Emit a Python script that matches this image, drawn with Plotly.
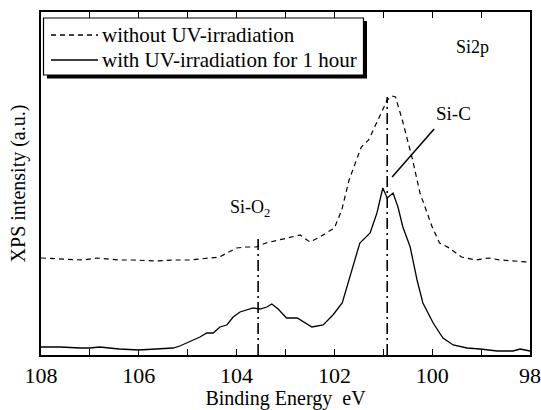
import plotly.graph_objects as go

# Binding energy (eV) and intensity (a.u.)
be_without = [108.0, 107.5, 107.15, 106.85, 106.4, 106.1, 105.65, 105.3, 104.95, 104.75,
              104.35, 104.2, 104.0, 103.8, 103.6, 103.4, 103.0, 102.7, 102.5, 102.3,
              102.0, 101.85, 101.7, 101.45, 101.3, 101.1, 100.92, 100.82, 100.75, 100.6,
              100.4, 100.25, 100.0, 99.85, 99.65, 99.4, 99.1, 98.85, 98.6, 98.05, 98.0]
int_without = [97, 96, 95, 97, 95, 95, 94, 95, 95, 96,
               98, 102, 107, 108, 108, 112, 117, 120, 113, 118,
               127, 145, 175, 208, 215, 237, 255, 259, 258, 233,
               195, 162, 128, 112, 107, 98, 95, 97, 95, 93, 93]

be_with = [108.0, 107.6, 107.2, 107.0, 106.8, 106.4, 106.0, 105.6, 105.3, 105.16,
           104.89, 104.75, 104.61, 104.48, 104.34, 104.2, 104.07, 103.93, 103.66, 103.52,
           103.38, 103.28, 103.15, 102.98, 102.76, 102.46, 102.23, 102.03, 101.84, 101.72,
           101.62, 101.48, 101.27, 101.13, 101.01, 100.92, 100.8, 100.7, 100.6, 100.45,
           100.31, 100.19, 99.98, 99.78, 99.57, 99.29, 99.02, 98.67, 98.35, 98.2, 98.0]
int_with = [8, 8, 7, 7, 8, 6, 5, 6, 7, 9,
            15, 18, 22, 22, 28, 30, 38, 43, 47, 46,
            48, 51, 46, 37, 37, 28, 30, 40, 52, 72,
            88, 112, 122, 142, 167, 157, 162, 148, 128, 108,
            75, 52, 32, 17, 10, 7, 6, 4, 4, 6, 4]

peak_positions = [100.92, 103.56]
peak_tops = [258, 120]
peak_labels = ["Si-C", "Si-O<sub>2</sub>"]

series_names = ["without UV-irradiation", "with UV-irradiation for 1 hour"]
series_dash = ["5px,4px", "solid"]
x_ticks = [108, 106, 104, 102, 100, 98]

FONT = "Liberation Serif, Times New Roman, serif"

fig = go.Figure()
fig.add_trace(go.Scatter(x=be_without, y=int_without, mode="lines", name=series_names[0],
                         showlegend=False,
                         line=dict(color="black", width=1.2, dash=series_dash[0])))
fig.add_trace(go.Scatter(x=be_with, y=int_with, mode="lines", name=series_names[1],
                         showlegend=False,
                         line=dict(color="black", width=1.3, dash=series_dash[1])))

# dash-dot peak markers
for pos, top in zip(peak_positions, peak_tops):
    fig.add_trace(go.Scatter(x=[pos, pos], y=[0, top], mode="lines", showlegend=False,
                             hoverinfo="skip",
                             line=dict(color="black", width=1.6, dash="11px,4px,2px,4px")))

# Si-C leader line
fig.add_trace(go.Scatter(x=[99.96, 100.82], y=[226, 178], mode="lines", showlegend=False,
                         hoverinfo="skip", line=dict(color="black", width=1.5)))

fig.add_annotation(x=99.57, y=242, text=peak_labels[0], showarrow=False,
                   font=dict(family=FONT, size=19, color="black"))
fig.add_annotation(x=103.72, y=147, text=peak_labels[1], showarrow=False,
                   font=dict(family=FONT, size=18, color="black"))
fig.add_annotation(x=99.17, y=308, text="Si2p", showarrow=False,
                   font=dict(family=FONT, size=18, color="black"))

# ---- legend box with drop shadow (paper coords) ----
W, H = 489.0, 343.0
def px(x):
    return (x - 41) / W
def py(y):
    return (355 - y) / H

fig.add_shape(type="rect", xref="paper", yref="paper",
              x0=px(47), x1=px(367), y0=py(78.5), y1=py(21),
              fillcolor="black", line=dict(width=0), layer="above")
fig.add_shape(type="rect", xref="paper", yref="paper",
              x0=px(43.5), x1=px(363.5), y0=py(75), y1=py(18),
              fillcolor="white", line=dict(color="black", width=1.2), layer="above")
for i, (name, dash) in enumerate(zip(series_names, series_dash)):
    yrow = 35 + 25 * i
    fig.add_shape(type="line", xref="paper", yref="paper",
                  x0=px(51), x1=px(98), y0=py(yrow), y1=py(yrow),
                  line=dict(color="black", width=1.3, dash=dash), layer="above")
    fig.add_annotation(xref="paper", yref="paper", x=px(100), y=py(yrow),
                       xanchor="left", yanchor="middle", text=name, showarrow=False,
                       font=dict(family=FONT, size=21, color="black"))

fig.update_layout(
    width=541, height=410,
    margin=dict(l=41, r=11, t=12, b=55),
    paper_bgcolor="white", plot_bgcolor="white",
    font=dict(family=FONT, color="black"),
    showlegend=False,
    xaxis=dict(range=[108, 98], tickvals=x_ticks, ticktext=[str(v) for v in x_ticks],
               ticks="inside", ticklen=6, tickwidth=1.2, tickcolor="black",
               minor=dict(dtick=1, ticks="inside", ticklen=6, tickwidth=1.2, tickcolor="black"),
               showline=True, linecolor="black", linewidth=1.5, mirror="ticks",
               showgrid=False, zeroline=False, automargin=False,
               tickfont=dict(family=FONT, size=22),
               title=dict(text="Binding Energy  eV", font=dict(family=FONT, size=20), standoff=6)),
    yaxis=dict(range=[0, 343], showticklabels=False, ticks="",
               showline=True, linecolor="black", linewidth=1.5, mirror=True,
               showgrid=False, zeroline=False, automargin=False,
               title=dict(text="XPS intensity (a.u.)", font=dict(family=FONT, size=20), standoff=8)),
)

fig.write_html("out.html",
               config={"displayModeBar": False},
               post_script="document.body.style.margin='0px';document.body.style.overflow='hidden';")
